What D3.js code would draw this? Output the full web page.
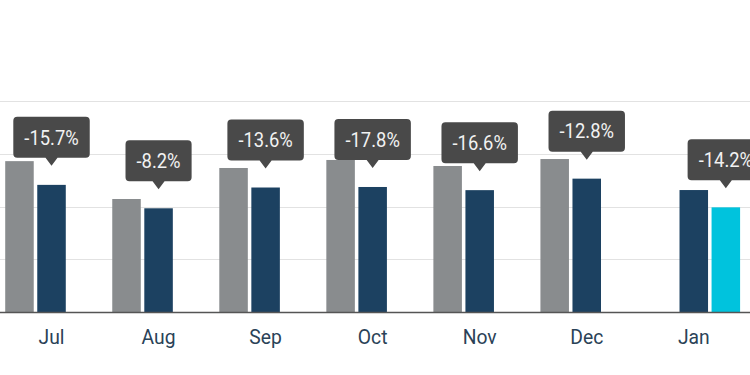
<!DOCTYPE html>
<html>
<head>
<meta charset="utf-8">
<script src="https://cdn.jsdelivr.net/npm/d3@7"></script>
<style>
  html, body { margin: 0; padding: 0; background: #fff; }
  svg { display: block; font-family: Roboto, "Noto Sans", sans-serif; }
</style>
</head>
<body>
<svg id="canvas" width="750" height="375"></svg>
<script>
var months = ['Jul', 'Aug', 'Sep', 'Oct', 'Nov', 'Dec', 'Jan'];
var prevYear = [143, 107.1, 136.5, 144.1, 138.4, 145, null];
var lastYear = [120.5, 98.3, 118, 118.5, 115.5, 126.4, 115.6];
var thisYear = [null, null, null, null, null, null, 99.2];
var changes = ['-15.7%', '-8.2%', '-13.6%', '-17.8%', '-16.6%', '-12.8%', '-14.2%'];
var gridTicks = [50, 100, 150, 200];

var seriesKeys = ['prev', 'last', 'this'];
var colors = { prev: '#898c8e', last: '#1c4161', 'this': '#00c3dd' };

var svg = d3.select('#canvas');

var y = d3.scaleLinear().domain([0, 200]).range([312, 101]);
var x0 = d3.scaleBand().domain(months).range([-2, 747.3]);
var x1 = d3.scaleBand().domain(seriesKeys).range([0, x0.bandwidth()])
    .paddingInner(0.11).paddingOuter(0.225);

// gridlines
svg.append('g')
    .selectAll('line')
    .data(gridTicks)
    .enter()
    .append('line')
    .attr('x1', 0)
    .attr('x2', 750)
    .attr('y1', function(d) { return Math.round(y(d)) + 0.5; })
    .attr('y2', function(d) { return Math.round(y(d)) + 0.5; })
    .attr('stroke', '#e2e2e2')
    .attr('stroke-width', 1);

var rows = months.map(function(m, i) {
    return { month: m, prev: prevYear[i], last: lastYear[i], 'this': thisYear[i], change: changes[i] };
});

var groups = svg.append('g')
    .selectAll('g')
    .data(rows)
    .enter()
    .append('g')
    .attr('transform', function(d) { return 'translate(' + x0(d.month) + ',0)'; });

groups.selectAll('rect')
    .data(function(d) {
        return seriesKeys
            .filter(function(k) { return d[k] != null; })
            .map(function(k) { return { key: k, value: d[k] }; });
    })
    .enter()
    .append('rect')
    .attr('x', function(d) { return x1(d.key); })
    .attr('y', function(d) { return y(d.value); })
    .attr('width', x1.bandwidth())
    .attr('height', function(d) { return y(0) - y(d.value); })
    .attr('fill', function(d) { return colors[d.key]; });

// baseline
svg.append('line')
    .attr('x1', 0)
    .attr('x2', 750)
    .attr('y1', y(0) + 0.5)
    .attr('y2', y(0) + 0.5)
    .attr('stroke', '#555')
    .attr('stroke-width', 1.6);

// x axis labels
var xAxis = d3.axisBottom(x0).tickSize(0).tickPadding(17);
var axisG = svg.append('g')
    .attr('transform', 'translate(0,' + y(0) + ')')
    .call(xAxis);
axisG.select('.domain').remove();
axisG.selectAll('text')
    .attr('font-family', 'Roboto, sans-serif')
    .attr('font-size', 21)
    .attr('fill', '#2a4257')
    .attr('transform', 'translate(' + (x1('last') + x1.bandwidth() / 2 - x0.bandwidth() / 2) + ',0) scale(0.92,1)');

// change callouts, anchored on the latest bar of each month
var tips = groups.append('g')
    .attr('class', 'tip')
    .attr('transform', function(d) {
        var k = d['this'] != null ? 'this' : 'last';
        var cx = x1(k) + x1.bandwidth() / 2;
        return 'translate(' + cx + ',' + (y(d[k]) - 18) + ')';
    });

tips.each(function(d) {
    var g = d3.select(this);
    var t = g.append('text')
        .attr('x', 0)
        .attr('y', -29)
        .attr('text-anchor', 'middle')
        .attr('dominant-baseline', 'central')
        .attr('font-size', 20)
        .attr('fill', '#f2f2f2')
        .text(d.change);
    var w = t.node().getComputedTextLength() * 0.92 + 22;
    t.attr('transform', 'scale(0.92,1)');
    g.insert('path', 'text')
        .attr('d', 'M' + (-w / 2 + 4) + ',-50' +
            ' H' + (w / 2 - 4) + ' Q' + (w / 2) + ',-50 ' + (w / 2) + ',-46' +
            ' V-13 Q' + (w / 2) + ',-9 ' + (w / 2 - 4) + ',-9' +
            ' H6 L0,-1 L-6,-9' +
            ' H' + (-w / 2 + 4) + ' Q' + (-w / 2) + ',-9 ' + (-w / 2) + ',-13' +
            ' V-46 Q' + (-w / 2) + ',-50 ' + (-w / 2 + 4) + ',-50 Z')
        .attr('fill', '#494949');
});
</script>
</body>
</html>
